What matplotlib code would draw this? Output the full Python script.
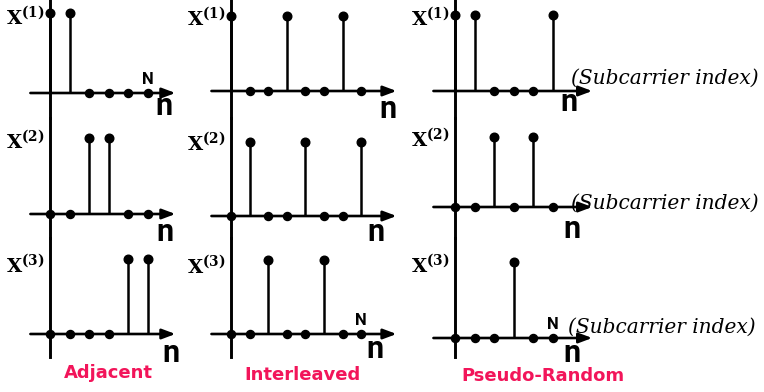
import matplotlib.pyplot as plt

plt.rcParams['mathtext.fontset'] = 'dejavuserif'

W, H = 764, 392

# subcarrier allocation schemes, users X(1), X(2), X(3)
schemes = ['Adjacent', 'Interleaved', 'Pseudo-Random']
n_slots = [6, 8, 6]
adjacent = [[0, 1], [2, 3], [4, 5]]
interleaved = [[0, 3, 6], [1, 4, 7], [2, 5]]
pseudo_random = [[0, 1, 5], [2, 4], [3]]
allocations = [adjacent, interleaved, pseudo_random]
user_labels = [r'$\mathbf{X^{(1)}}$', r'$\mathbf{X^{(2)}}$', r'$\mathbf{X^{(3)}}$']
n_mark_row = [0, 2, 2]      # row where "N" is written in each column
index_note = '(Subcarrier index)'

# layout (pixels)
col_x0 = [50, 231, 455]
col_dx = [19.6, 18.6, 19.6]
col_span = [(0, 185), (185, 405), (405, 764)]
axis_from = [-1.0, -1.05, -1.1]
axis_to = [6.4, 8.9, 7.0]
row_span = [(0, 118), (118, 238), (238, 357)]
base_y = [[93, 214, 334], [91, 216, 334], [91, 207, 338]]
top_y = [[13, 138, 259], [16, 142, 260], [15, 137, 262]]
n_off = [[(-12, -22), (-11, -27), (-5, -28)],
         [(-9, -27), (-21, -25), (-22, -24)],
         [(-23, -20), (-20, -31), (-20, -24)]]
lab_off = [[-4, -3, -6], [-2, -1, -6], [-3, -2, -3]]
note_off = [(-21, 13), (-21, 4), (-24, 11)]
scheme_xy = [(108, 373), (302, 375), (543, 376)]
pink = '#f2155a'

fig = plt.figure(figsize=(W / 100, H / 100), dpi=100)

for c in range(3):
    x0, dx = col_x0[c], col_dx[c]
    xl, xr = col_span[c]
    for r in range(3):
        yt, yb = row_span[r]
        base, top = base_y[c][r], top_y[c][r]
        h = base - top
        ax = fig.add_axes([xl / W, 1 - yb / H, (xr - xl) / W, (yb - yt) / H])
        ax.set_xlim((xl - x0) / dx, (xr - x0) / dx)
        ax.set_ylim((base - yb) / h, (base - yt) / h)
        ax.axis('off')
        ax.patch.set_alpha(0)

        # vertical axis
        ax.plot([0, 0], ax.get_ylim(), color='k', lw=2.1, clip_on=False)
        # horizontal axis with arrow
        ax.annotate('', xy=(axis_to[c], 0), xytext=(axis_from[c], 0),
                    arrowprops=dict(arrowstyle='-|>,head_length=0.8,head_width=0.3',
                                    lw=1.9, color='k', shrinkA=0, shrinkB=0))

        used = allocations[c][r]
        empty = [k for k in range(n_slots[c]) if k not in used]
        ax.vlines(used, 0, 1, color='k', lw=1.8)
        ax.plot(used, [1] * len(used), 'o', color='k', ms=6.2, clip_on=False)
        ax.plot(empty, [0] * len(empty), 'o', color='k', ms=5.8, clip_on=False)

        ax.annotate(user_labels[r], xy=(0, 1), xytext=(-5, lab_off[c][r]),
                    textcoords='offset pixels', ha='right', va='center',
                    fontsize=14)
        ax.annotate('n', xy=(axis_to[c], 0), xytext=n_off[c][r],
                    textcoords='offset pixels', ha='center', va='baseline',
                    fontsize=22, fontweight='bold', family='Roboto')
        if r == n_mark_row[c]:
            ax.annotate('N', xy=(n_slots[c] - 1, 0), xytext=(0, 9),
                        textcoords='offset pixels', ha='center', va='baseline',
                        fontsize=12, fontweight='bold', family='Roboto')
        if c == 2:
            ax.annotate(index_note, xy=(axis_to[c], 0), xytext=note_off[r],
                        textcoords='offset pixels', ha='left', va='center',
                        fontsize=14.5, style='italic', family='DejaVu Serif')

for name, (px, py) in zip(schemes, scheme_xy):
    fig.text(px / W, 1 - py / H, name, ha='center', va='center',
             color=pink, fontsize=13, fontweight='bold')

fig.savefig('out.png', dpi=100)
